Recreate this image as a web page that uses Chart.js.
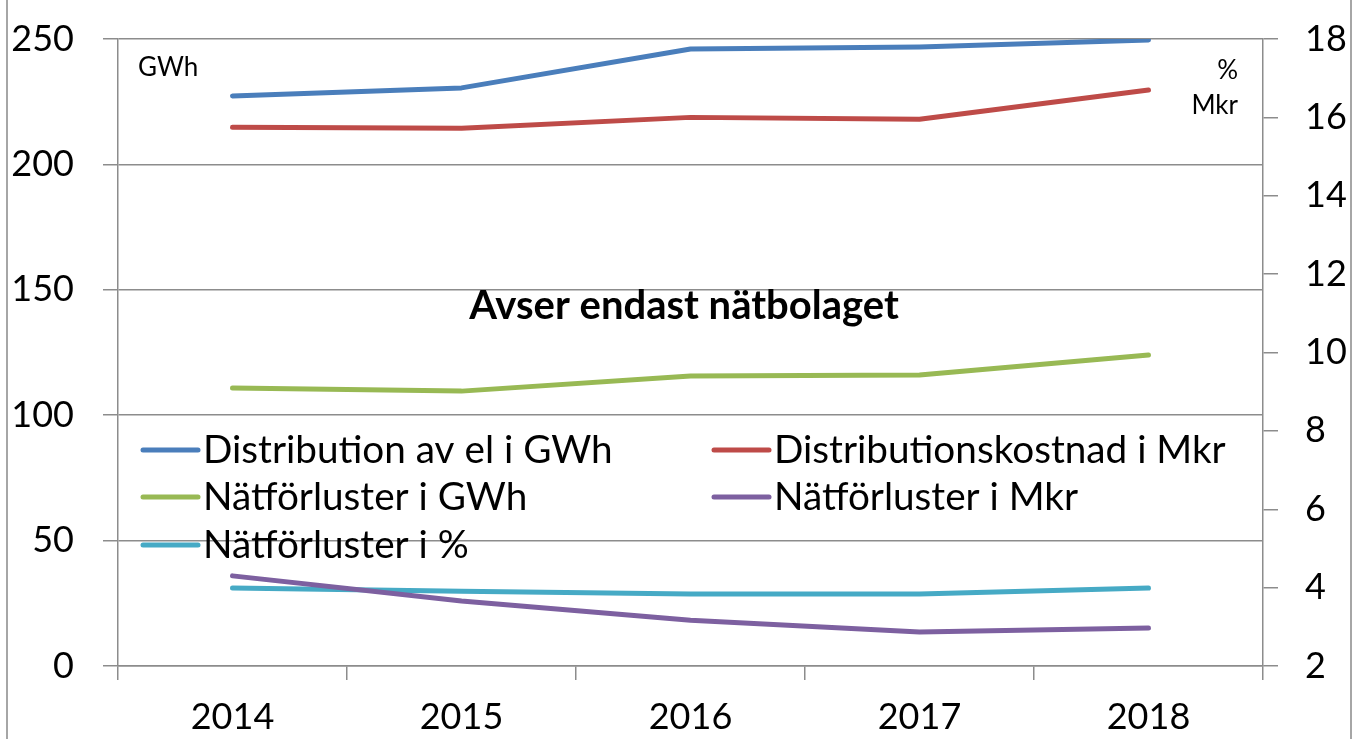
<!DOCTYPE html>
<html>
<head>
<meta charset="utf-8">
<script src="https://cdn.jsdelivr.net/npm/chart.js@4"></script>
<style>
  html, body { margin: 0; padding: 0; background: #ffffff; }
  #wrap { width: 1360px; height: 739px; position: relative; }
  canvas { display: block; }
</style>
</head>
<body>
<div id="wrap"><canvas id="c" width="1360" height="739"></canvas></div>
<script>
// ---- data ----
const years = ['2014', '2015', '2016', '2017', '2018'];
const distributionGWh = [227.3, 230.5, 246, 246.8, 249.6];
const distributionskostnadMkr = [15.75, 15.72, 16.0, 15.95, 16.7];
const natforlusterGWh = [110.8, 109.6, 115.6, 116, 124];
const natforlusterMkr = [4.3, 3.66, 3.17, 2.87, 2.97];
const natforlusterPct = [3.99, 3.91, 3.84, 3.84, 3.99];
const seriesLabels = ['Distribution av el i GWh', 'Distributionskostnad i Mkr', 'Nätförluster i GWh', 'Nätförluster i Mkr', 'Nätförluster i %'];
const leftTicks = { min: 0, max: 250, step: 50 };
const rightTicks = { min: 2, max: 18, step: 2 };
const chartTitle = 'Avser endast nätbolaget';
const leftUnit = 'GWh';
const rightUnits = ['%', 'Mkr'];

const FONT = 'Lato, "Open Sans", "Liberation Sans", sans-serif';
const GRID = '#8c8c8c';

const extras = {
  id: 'extras',
  beforeDraw(chart) {
    const ctx = chart.ctx;
    ctx.save();
    ctx.fillStyle = '#ffffff';
    ctx.fillRect(0, 0, chart.width, chart.height);
    ctx.strokeStyle = '#a6a6a6';
    ctx.lineWidth = 2;
    ctx.beginPath();
    ctx.moveTo(7, 0); ctx.lineTo(7, chart.height);
    ctx.moveTo(1351, 0); ctx.lineTo(1351, chart.height);
    ctx.stroke();
    ctx.restore();
  },
  afterDatasetsDraw(chart) {
    const ctx = chart.ctx;
    const ds = chart.data.datasets;
    ctx.save();
    // unit labels
    ctx.fillStyle = '#000';
    ctx.textBaseline = 'middle';
    ctx.font = '26px ' + FONT;
    ctx.textAlign = 'left';
    ctx.fillText(leftUnit, 138, 68);
    ctx.textAlign = 'right';
    ctx.fillText(rightUnits[0], 1238, 71);
    ctx.fillText(rightUnits[1], 1238, 106);
    // title
    ctx.font = 'bold 40px ' + FONT;
    ctx.textAlign = 'center';
    ctx.fillText(chartTitle, 684, 306);
    // legend
    const cols = [143, 714];
    const rows = [450, 497, 545];
    ctx.font = '38.7px ' + FONT;
    ctx.textAlign = 'left';
    ds.forEach((d, i) => {
      const x = cols[i % 2];
      const y = rows[Math.floor(i / 2)];
      ctx.strokeStyle = d.borderColor;
      ctx.lineWidth = 5;
      ctx.lineCap = 'round';
      ctx.beginPath();
      ctx.moveTo(x, y);
      ctx.lineTo(x + 55, y);
      ctx.stroke();
      ctx.fillStyle = '#000';
      ctx.fillText(d.label, x + 60, y + 1);
    });
    ctx.restore();
  }
};

const lineStyle = (color) => ({
  borderColor: color,
  backgroundColor: color,
  borderWidth: 5,
  pointRadius: 0,
  pointHoverRadius: 0,
  tension: 0,
  borderCapStyle: 'round',
  borderJoinStyle: 'round',
  fill: false
});

new Chart(document.getElementById('c'), {
  type: 'line',
  data: {
    labels: years,
    datasets: [
      Object.assign({ label: seriesLabels[0], data: distributionGWh, yAxisID: 'y' }, lineStyle('#4a7ebb')),
      Object.assign({ label: seriesLabels[1], data: distributionskostnadMkr, yAxisID: 'y1' }, lineStyle('#be4b48')),
      Object.assign({ label: seriesLabels[2], data: natforlusterGWh, yAxisID: 'y' }, lineStyle('#98b954')),
      Object.assign({ label: seriesLabels[3], data: natforlusterMkr, yAxisID: 'y1' }, lineStyle('#7d60a0')),
      Object.assign({ label: seriesLabels[4], data: natforlusterPct, yAxisID: 'y1' }, lineStyle('#46aac5'))
    ]
  },
  options: {
    responsive: false,
    animation: false,
    devicePixelRatio: 1,
    layout: { padding: { top: 39, left: 0, right: 0, bottom: 0 } },
    plugins: { legend: { display: false }, tooltip: { enabled: false }, title: { display: false } },
    scales: {
      x: {
        type: 'category',
        offset: true,
        grid: { offset: true, drawOnChartArea: false, drawTicks: true, tickLength: 14, color: GRID, lineWidth: 1.5 },
        border: { display: true, color: GRID, width: 1.5 },
        ticks: { color: '#000', font: { family: FONT, size: 36 }, padding: 16, maxRotation: 0 },
        afterFit(s) { s.height = 73; s.paddingLeft = 0; s.paddingRight = 0; }
      },
      y: {
        position: 'left',
        min: leftTicks.min, max: leftTicks.max,
        grid: { color: GRID, lineWidth: 1.5, tickLength: 15, drawTicks: true },
        border: { display: true, color: GRID, width: 1.5 },
        ticks: { stepSize: leftTicks.step, color: '#000', font: { family: FONT, size: 36 }, padding: 29 },
        afterFit(s) { s.width = 118; s.paddingTop = 0; s.paddingBottom = 0; }
      },
      y1: {
        position: 'right',
        min: rightTicks.min, max: rightTicks.max,
        grid: { drawOnChartArea: false, color: GRID, lineWidth: 1.5, tickLength: 15, drawTicks: true },
        border: { display: true, color: GRID, width: 1.5 },
        ticks: { stepSize: rightTicks.step, color: '#000', font: { family: FONT, size: 36 }, padding: 27 },
        afterFit(s) { s.width = 97; s.paddingTop = 0; s.paddingBottom = 0; }
      }
    }
  },
  plugins: [extras]
});
</script>
</body>
</html>
